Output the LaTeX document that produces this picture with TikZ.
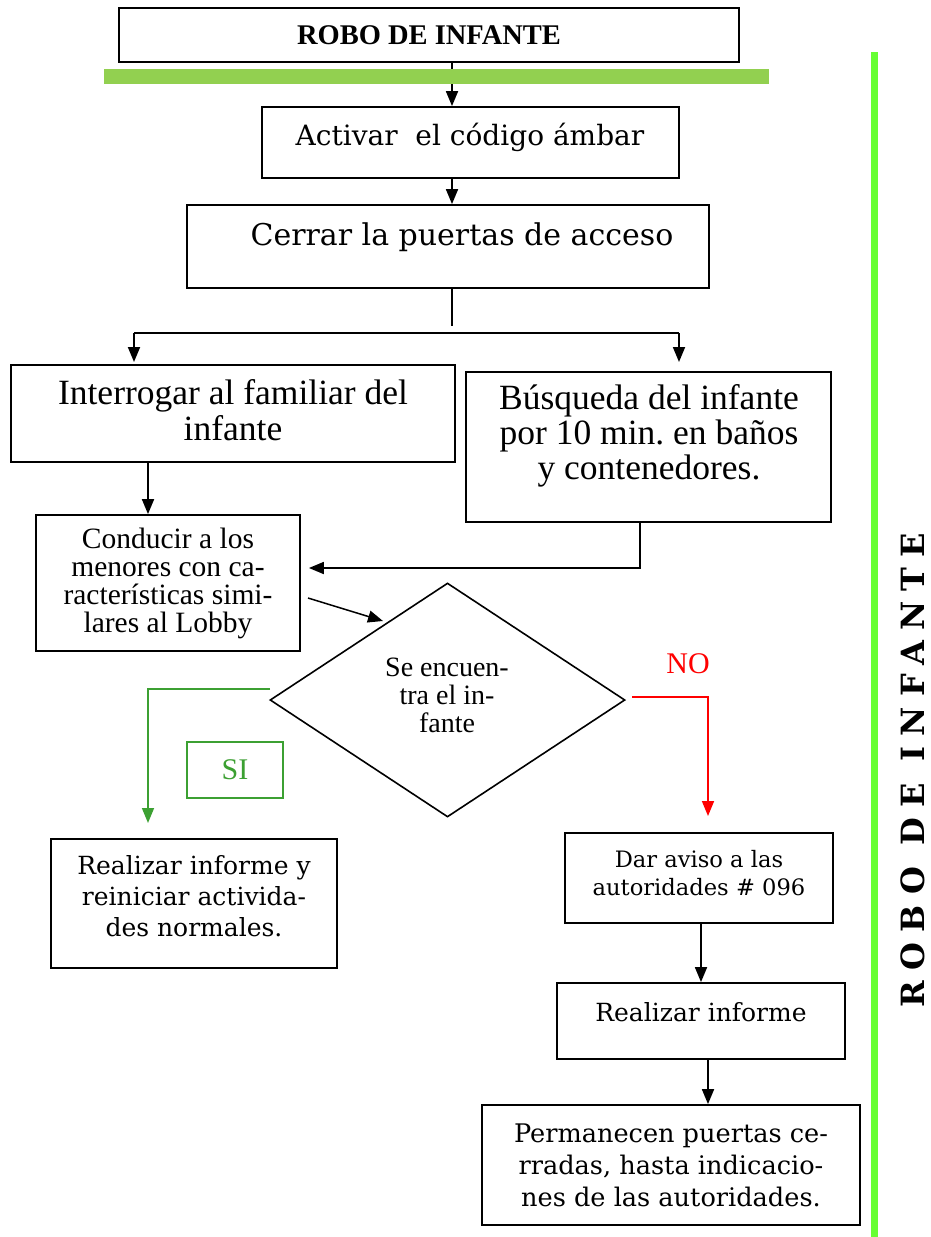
\documentclass[tikz,border=0pt]{standalone}
\usepackage{fontspec}
\setmainfont{Liberation Serif}
\newfontfamily\bk{DejaVu Serif}
\newfontfamily\vt[LetterSpace=32]{DejaVu Serif}
\usetikzlibrary{arrows.meta,shapes.geometric}
\definecolor{bargreen}{RGB}{146,208,80}
\definecolor{sidegreen}{RGB}{102,255,51}
\definecolor{sigreen}{RGB}{60,160,50}
\frenchspacing
\begin{document}
\begin{tikzpicture}[x=1pt,y=-1pt,
  box/.style={draw=black,line width=1.8pt,inner sep=0pt},
  txt/.style={inner sep=0pt,align=center},
  arr/.style={line width=1.8pt,-{Triangle[length=15pt,width=12pt]}},
  ln/.style={line width=1.8pt},
  garr/.style={draw=sigreen,line width=1.6pt,-{Triangle[length=15pt,width=12pt]}},
  rarr/.style={draw=red,line width=1.6pt,-{Triangle[length=15pt,width=12pt]}}]
\useasboundingbox[fill=white] (0,0) rectangle (930,1237);

% boxes
\node[box,minimum width=620,minimum height=54] (title) at (429,35) {};
\node[box,minimum width=417,minimum height=71] (b2) at (470.5,142.5) {};
\node[box,minimum width=522,minimum height=83] (b3) at (448,246.5) {};
\node[box,minimum width=444,minimum height=97] (b4) at (233,413.5) {};
\node[box,minimum width=365,minimum height=150] (b5) at (648.5,447) {};
\node[box,minimum width=264,minimum height=136] (b6) at (168,583) {};
\node[draw=black,line width=1.6pt,shape=diamond,aspect=1.517,minimum width=355,minimum height=234,inner sep=0pt] (dia) at (447.5,700) {};
\node[draw=sigreen,line width=1.4pt,minimum width=96,minimum height=56,inner sep=0pt] (si) at (235,770) {};
\node[box,minimum width=286,minimum height=129] (b7) at (194,903.5) {};
\node[box,minimum width=268,minimum height=90] (b8) at (699,878) {};
\node[box,minimum width=288,minimum height=76] (b9) at (701,1021) {};
\node[box,minimum width=378,minimum height=120] (b10) at (671,1165) {};

% texts
\node[txt,font=\bfseries\fontsize{28.5}{30}\selectfont] (ttitle) at (429,35) {ROBO DE INFANTE};
\node[txt,font=\bk\fontsize{28}{32}\selectfont] (t2) at (470,137) {Activar\ \ el código ámbar};
\node[txt,font=\bk\fontsize{30}{32}\selectfont] (t3) at (462,237) {Cerrar la puertas de acceso};
\node[txt,font=\fontsize{35.5}{36}\selectfont] (t4) at (233,410) {Interrogar al familiar del\\infante};
\node[txt,font=\fontsize{35.5}{35}\selectfont] (t5) at (649,436) {Búsqueda del infante\\por 10 min. en baños\\y contenedores.};
\node[txt,font=\fontsize{29.5}{28}\selectfont] (t6) at (168,583) {Conducir a los\\menores con ca-\\racterísticas simi-\\lares al Lobby};
\node[txt,font=\fontsize{28}{28}\selectfont] (tdia) at (447,695) {Se encuen-\\tra el in-\\fante};
\node[txt,font=\fontsize{30}{30}\selectfont,text=sigreen] (tsi) at (235,770) {SI};
\node[txt,font=\fontsize{30}{30}\selectfont,text=red] (tno) at (688,664) {NO};
\node[txt,font=\bk\fontsize{25}{31}\selectfont] (t7) at (194,896) {Realizar informe y\\reiniciar activida-\\des normales.};
\node[txt,font=\bk\fontsize{22.6}{28}\selectfont] (t8) at (699,873) {Dar aviso a las\\autoridades \# 096};
\node[txt,font=\bk\fontsize{25}{30}\selectfont] (t9) at (701,1012) {Realizar informe};
\node[txt,font=\bk\fontsize{25.6}{32}\selectfont] (t10) at (671,1165) {Permanecen puertas ce-\\rradas, hasta indicacio-\\nes de las autoridades.};
\node[txt,font=\vt\bfseries\fontsize{32}{33}\selectfont,rotate=90,text height=23.3pt,text depth=0pt] (side) at (913,770) {ROBO DE INFANTE};

% helper coordinates
\coordinate (x452) at (452,0);
\coordinate (x134) at (134,0);
\coordinate (x679) at (679,0);
\coordinate (y326) at (0,326);
\coordinate (y333) at (0,333);
\coordinate (y362) at (0,362);
\coordinate (x148) at (148,0);
\coordinate (x640) at (640,0);
\coordinate (y568) at (0,568);
\coordinate (p6a) at (308,598);
\coordinate (pda) at (383,621);
\coordinate (g1) at (270,689);
\coordinate (g2) at (148,689);
\coordinate (g3) at (148,823);
\coordinate (r1) at (632,697);
\coordinate (r2) at (708,697);
\coordinate (r3) at (708,816);
\coordinate (x701) at (701,0);
\coordinate (x708) at (708,0);

% connectors
\draw[arr] (title.south -| x452) -- (b2.north -| x452);
\fill[bargreen] (104,69) rectangle (769,84);
\draw[arr] (b2.south -| x452) -- (b3.north -| x452);
\draw[ln] (b3.south -| x452) -- (x452 |- y326);
\draw[ln] (x134 |- y333) -- (x679 |- y333);
\draw[arr] (x134 |- y333) -- (x134 |- y362);
\draw[arr] (x679 |- y333) -- (x679 |- y362);
\draw[arr] (b4.south -| x148) -- (b6.north -| x148);
\draw[arr] (b5.south -| x640) -- (x640 |- y568) -- ([xshift=8pt]b6.east |- y568);
\draw[line width=1.5pt,-{Triangle[length=15pt,width=12pt]}] (p6a) -- (pda);
\draw[garr] (g1) -- (g2) -- (g3);
\draw[rarr] (r1) -- (r2) -- (r3);
\draw[arr] (b8.south -| x701) -- (b9.north -| x701);
\draw[arr] (b9.south -| x708) -- (b10.north -| x708);
\draw[sidegreen,line width=7pt] (874,52) -- (874,1237);
\end{tikzpicture}
\end{document}
